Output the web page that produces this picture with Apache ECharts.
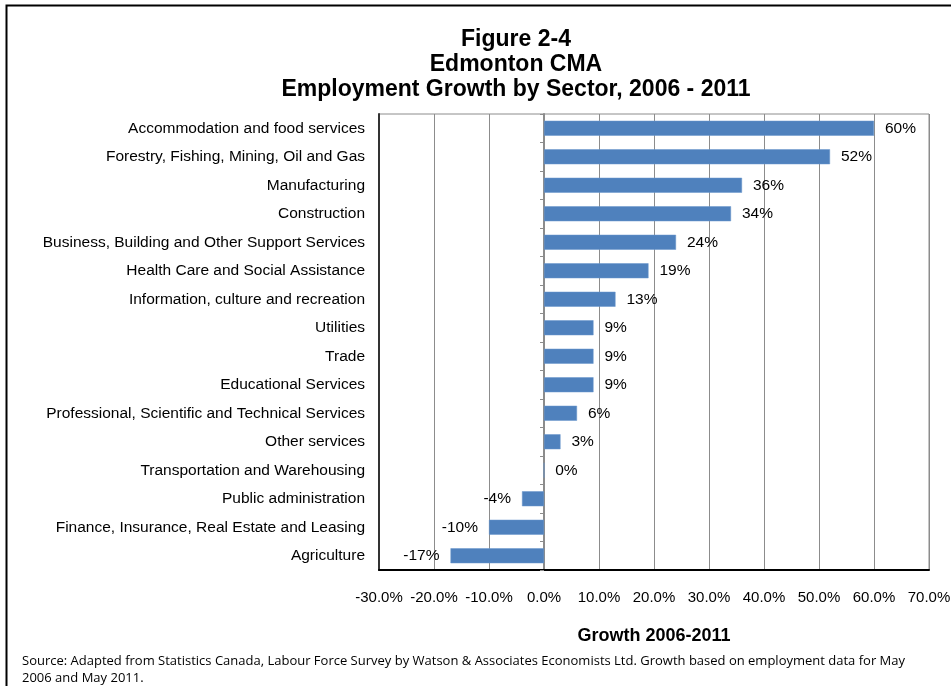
<!DOCTYPE html>
<html>
<head>
<meta charset="utf-8">
<script src="https://cdn.jsdelivr.net/npm/echarts@6/dist/echarts.min.js"></script>
<style>
  html, body { margin: 0; padding: 0; background: #fff; }
  #chart { width: 951px; height: 686px; }
</style>
</head>
<body>
<div id="chart"></div>
<script>
// Sectors, listed top to bottom
const sectors = [
  'Accommodation and food services',
  'Forestry, Fishing, Mining, Oil and Gas',
  'Manufacturing',
  'Construction',
  'Business, Building and Other Support Services',
  'Health Care and Social Assistance',
  'Information, culture and recreation',
  'Utilities',
  'Trade',
  'Educational Services',
  'Professional, Scientific and Technical Services',
  'Other services',
  'Transportation and Warehousing',
  'Public administration',
  'Finance, Insurance, Real Estate and Leasing',
  'Agriculture'
];
// Employment growth 2006-2011, percent
const growth = [60, 52, 36, 34, 24, 19, 13, 9, 9, 9, 6, 3, 0, -4, -10, -17];
// Growth axis ticks, percent
const axisMin = -30, axisMax = 70, axisStep = 10;

const titleLines = ['Figure 2-4', 'Edmonton CMA', 'Employment Growth by Sector, 2006 - 2011'];
const sourceNote = 'Source: Adapted from Statistics Canada, Labour Force Survey by Watson & Associates Economists Ltd. Growth based on employment data for May\n2006 and May 2011.';

// Category axis runs bottom-up, so reverse for top-to-bottom order
const cats = sectors.slice().reverse();
const vals = growth.slice().reverse();

const chart = echarts.init(document.getElementById('chart'));
const font = '"Liberation Sans", Arial, sans-serif';

chart.setOption({
  animation: false,
  backgroundColor: '#fff',
  title: [{
    text: titleLines.join('\n'),
    left: 511, top: 22, textAlign: 'center',
    textStyle: { fontFamily: font, fontSize: 23, fontWeight: 'bold', color: '#000', lineHeight: 25 }
  }],
  grid: {
    left: 379, right: 22, top: 114, bottom: 116,
    outerBoundsMode: 'none', containLabel: false,
    show: true, borderColor: '#8c8c8c', borderWidth: 1
  },
  xAxis: {
    type: 'value', min: axisMin, max: axisMax, interval: axisStep,
    name: 'Growth 2006-2011', nameLocation: 'middle', nameGap: 57,
    nameTextStyle: { fontFamily: font, fontSize: 18, fontWeight: 'bold', color: '#000' },
    axisLine: { show: true, lineStyle: { color: '#000', width: 2 } },
    axisTick: { show: false },
    axisLabel: { fontFamily: font, fontSize: 15, color: '#000', margin: 20, formatter: v => v.toFixed(1) + '%' },
    splitLine: { show: true, lineStyle: { color: '#8c8c8c', width: 1 } }
  },
  yAxis: [{
    type: 'category', data: cats,
    axisLine: { show: true, onZero: false, lineStyle: { color: '#333', width: 2 } },
    axisTick: { show: false },
    axisLabel: { fontFamily: font, fontSize: 15.5, color: '#000', margin: 14 }
  }, {
    type: 'category', data: cats, position: 'left',
    axisLine: { show: true, onZero: true, lineStyle: { color: '#8c8c8c', width: 2 } },
    axisTick: { show: true, length: 4, lineStyle: { color: '#8c8c8c' } },
    axisLabel: { show: false }
  }],
  series: [{
    type: 'bar', yAxisIndex: 0,
    barWidth: 15,
    itemStyle: { color: '#4f81bd', borderColor: '#6a96cc', borderWidth: 0.5 },
    data: vals.map(v => ({
      value: v,
      label: { position: v < 0 ? 'left' : 'right' }
    })),
    label: {
      show: true, distance: 11, fontFamily: font, fontSize: 15.5, color: '#000',
      formatter: p => p.value + '%'
    }
  }],
  graphic: [{
    type: 'rect', left: 4, top: 3, z: 100,
    shape: { width: 952, height: 682 },
    style: { fill: 'none', stroke: '#000', lineWidth: 2 }
  }, {
    type: 'text', left: 22, top: 653,
    style: { text: sourceNote, font: '13px "Open Sans", "Liberation Sans", sans-serif', fill: '#000', lineHeight: 17 }
  }]
});
</script>
</body>
</html>
